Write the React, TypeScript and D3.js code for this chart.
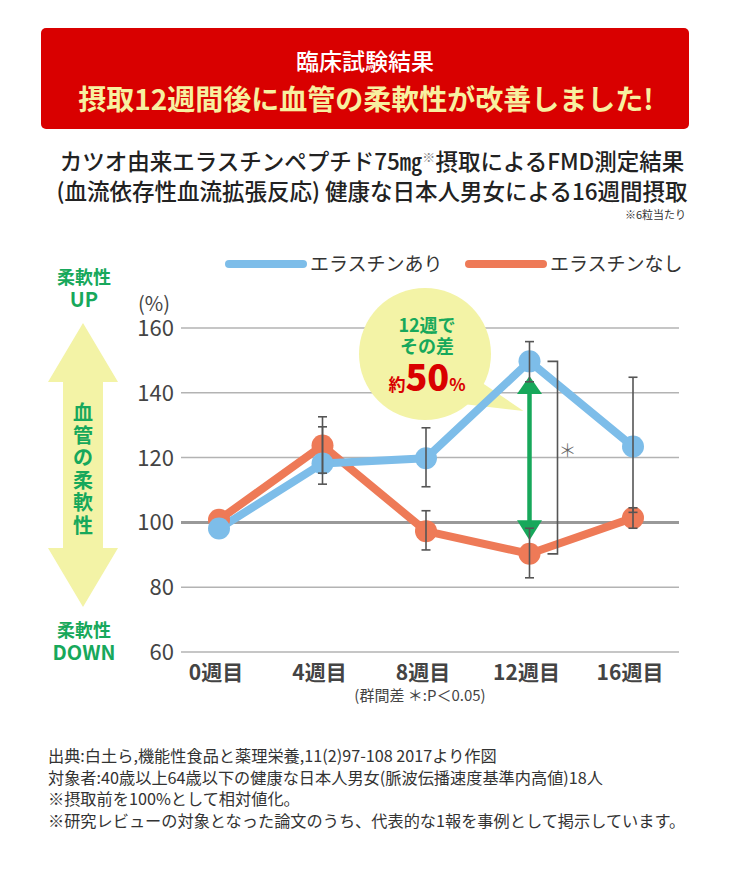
import * as d3 from 'd3';

// 週ごとの測定値 (摂取前=100%)
const weeks = ['0週目', '4週目', '8週目', '12週目', '16週目'];
const withElastin = [98.1, 118.2, 119.8, 149.7, 123.4];
const withoutElastin = [100.8, 123.7, 97.3, 90.3, 101.4];
// エラーバー (上端・下端)
const withHigh = [null, 129.5, 129.2, 155.8, 144.8];
const withLow = [null, 111.8, 111.0, 143.4, 103.1];
const withoutHigh = [null, 132.6, 103.6, 98.2, 104.5];
const withoutLow = [null, 115.2, 91.5, 82.9, 98.2];
const yTicks = [60, 80, 100, 120, 140, 160];
// 12週の差を示す矢印の両端
const arrowTop = 145.2;
const arrowBottom = 94.5;
const sigWeek = '12週目';

const footnotes = [
  '出典:白土ら,機能性食品と薬理栄養,11(2)97-108 2017より作図',
  '対象者:40歳以上64歳以下の健康な日本人男女(脈波伝播速度基準内高値)18人',
  '※摂取前を100%として相対値化。',
  '※研究レビューの対象となった論文のうち、代表的な1報を事例として掲示しています。',
];

const FONT = "'Noto Sans CJK JP', 'Noto Sans', sans-serif";
const BLUE = '#7dbde9';
const ORANGE = '#ee7a57';
const GREEN = '#17a85b';
const PALE = '#f3f3a6';
const GRAY = '#555';

export default function App() {
  const x = d3.scalePoint<string>().domain(weeks).range([219, 633]);
  const y = d3.scaleLinear().domain([60, 160]).range([652, 328]);

  const line = d3
    .line<number>()
    .x((_, i) => x(weeks[i])!)
    .y((d) => y(d));

  const errBars = (hi: (number | null)[], lo: (number | null)[]) =>
    weeks.map((w, i) => {
      const h = hi[i];
      const l = lo[i];
      if (h == null || l == null) return null;
      const cx = x(w)!;
      return (
        <g key={w} stroke={GRAY} strokeWidth={1.6}>
          <line x1={cx} x2={cx} y1={y(h)} y2={y(l)} />
          <line x1={cx - 4.5} x2={cx + 4.5} y1={y(h)} y2={y(h)} />
          <line x1={cx - 4.5} x2={cx + 4.5} y1={y(l)} y2={y(l)} />
        </g>
      );
    });

  const sx = x(sigWeek)!;
  const si = weeks.indexOf(sigWeek);
  const brX = sx + 28;
  const brTop = y(withElastin[si]);
  const brBot = y(withoutElastin[si]);

  const aTop = y(arrowTop);
  const aBot = y(arrowBottom);

  // 吹き出し
  const bx = 425;
  const by = 354;
  const br = 66;

  return (
    <div style={{ position: 'absolute', left: 0, top: 0 }}>
      <svg width={730} height={880} style={{ display: 'block', fontFamily: FONT }}>
        <rect width={730} height={880} fill="#fff" />

        {/* ヘッダー */}
        <rect x={41} y={28} width={648} height={101} rx={5} fill="#d90000" />
        <text x={365} y={70} textAnchor="middle" fill="#fff" fontSize={23} fontWeight={500}>
          臨床試験結果
        </text>
        <text x={366} y={110} textAnchor="middle" fill="#f7f0a0" fontSize={28} fontWeight={700}>
          摂取12週間後に血管の柔軟性が改善しました!
        </text>

        {/* タイトル */}
        <text x={372} y={170} textAnchor="middle" fill="#222" fontSize={22.5} fontWeight={500}>
          カツオ由来エラスチンペプチド75㎎
          <tspan fontSize={13} dy={-8} fill="#888">※</tspan>
          <tspan dy={8}>摂取によるFMD測定結果</tspan>
        </text>
        <text x={372} y={200} textAnchor="middle" fill="#222" fontSize={22.5} fontWeight={500}>
          (血流依存性血流拡張反応) 健康な日本人男女による16週間摂取
        </text>
        <text x={686} y={219} textAnchor="end" fill="#333" fontSize={11}>
          ※6粒当たり
        </text>

        {/* 凡例 */}
        <line x1={229} x2={303} y1={264} y2={264} stroke={BLUE} strokeWidth={8} strokeLinecap="round" />
        <text x={310} y={271} fill="#333" fontSize={19}>エラスチンあり</text>
        <line x1={469} x2={543} y1={264} y2={264} stroke={ORANGE} strokeWidth={8} strokeLinecap="round" />
        <text x={550} y={271} fill="#333" fontSize={19}>エラスチンなし</text>

        {/* 左の矢印 */}
        <path
          d="M83,323 L118,382 L103,382 L103,548 L118,548 L83,607 L48,548 L63,548 L63,382 L48,382 Z"
          fill={PALE}
        />
        {'血管の柔軟性'.split('').map((c, i) => (
          <text key={i} x={83} y={420 + i * 22.5} textAnchor="middle" fill={GREEN} fontSize={20} fontWeight={700}>
            {c}
          </text>
        ))}
        <text x={84} y={284} textAnchor="middle" fill={GREEN} fontSize={18} fontWeight={700}>柔軟性</text>
        <text x={84} y={307} textAnchor="middle" fill={GREEN} fontSize={20} fontWeight={700}>UP</text>
        <text x={84} y={637} textAnchor="middle" fill={GREEN} fontSize={18} fontWeight={700}>柔軟性</text>
        <text x={84} y={660} textAnchor="middle" fill={GREEN} fontSize={20} fontWeight={700}>DOWN</text>

        {/* 軸とグリッド */}
        <text x={154} y={311} textAnchor="middle" fill="#444" fontSize={20}>(%)</text>
        {yTicks.map((t) => (
          <g key={t}>
            <line
              x1={181}
              x2={679}
              y1={y(t)}
              y2={y(t)}
              stroke={t === 100 ? '#999' : '#b3b3b3'}
              strokeWidth={t === 100 ? 3 : 1.5}
            />
            <text x={174} y={y(t) + 8} textAnchor="end" fill="#444" fontSize={22}>
              {t}
            </text>
          </g>
        ))}
        {weeks.map((w) => (
          <text key={w} x={x(w)! - 3} y={680} textAnchor="middle" fill="#444" fontSize={21} fontWeight={700}>
            {w}
          </text>
        ))}
        <text x={420} y={701} textAnchor="middle" fill="#444" fontSize={15}>
          (群間差 ＊:P＜0.05)
        </text>

        {/* 吹き出し */}
        <circle cx={bx} cy={by} r={br} fill={PALE} />
        <path d={`M${bx + 50},${by + 24} L${sx - 6},${by + 57} L${bx + 38},${by + 50} Z`} fill={PALE} />
        <text x={bx + 2} y={332} textAnchor="middle" fill={GREEN} fontSize={18} fontWeight={700}>12週で</text>
        <text x={bx + 2} y={353} textAnchor="middle" fill={GREEN} fontSize={18} fontWeight={700}>その差</text>
        <text x={bx + 2} y={391} textAnchor="middle" fill="#d90000" fontWeight={700}>
          <tspan fontSize={17}>約</tspan>
          <tspan fontSize={36} fontWeight={900}>50</tspan>
          <tspan fontSize={17}>%</tspan>
        </text>

        {/* 折れ線 */}
        <path d={line(withoutElastin)!} fill="none" stroke={ORANGE} strokeWidth={8} strokeLinejoin="round" />
        <path d={line(withElastin)!} fill="none" stroke={BLUE} strokeWidth={8} strokeLinejoin="round" />
        {withoutElastin.map((v, i) => (
          <circle key={i} cx={x(weeks[i])!} cy={y(v)} r={11} fill={ORANGE} />
        ))}
        {withElastin.map((v, i) => (
          <circle key={i} cx={x(weeks[i])!} cy={y(v)} r={11} fill={BLUE} />
        ))}

        {/* 差の矢印 */}
        <line x1={sx} x2={sx} y1={aTop + 10} y2={aBot - 10} stroke={GREEN} strokeWidth={4.5} />
        <path d={`M${sx},${aTop} L${sx + 12.5},${aTop + 18} L${sx - 12.5},${aTop + 18} Z`} fill={GREEN} />
        <path d={`M${sx},${aBot} L${sx + 12.5},${aBot - 20} L${sx - 12.5},${aBot - 20} Z`} fill={GREEN} />

        {/* エラーバー */}
        {errBars(withoutHigh, withoutLow)}
        {errBars(withHigh, withLow)}

        {/* 有意差 */}
        <path
          d={`M${brX - 10},${brTop} L${brX},${brTop} L${brX},${brBot} L${brX - 10},${brBot}`}
          fill="none"
          stroke={GRAY}
          strokeWidth={1.6}
        />
        <text x={brX + 10} y={(brTop + brBot) / 2 - 1} textAnchor="middle" fill="#666" fontSize={18} fontWeight={300}>
          ＊
        </text>

        {/* 注釈 */}
        {footnotes.map((f, i) => (
          <text key={i} x={48} y={762} dy={i * 21.5} fill="#333" fontSize={16.2} fontWeight={400}>
            {f}
          </text>
        ))}
      </svg>
    </div>
  );
}
